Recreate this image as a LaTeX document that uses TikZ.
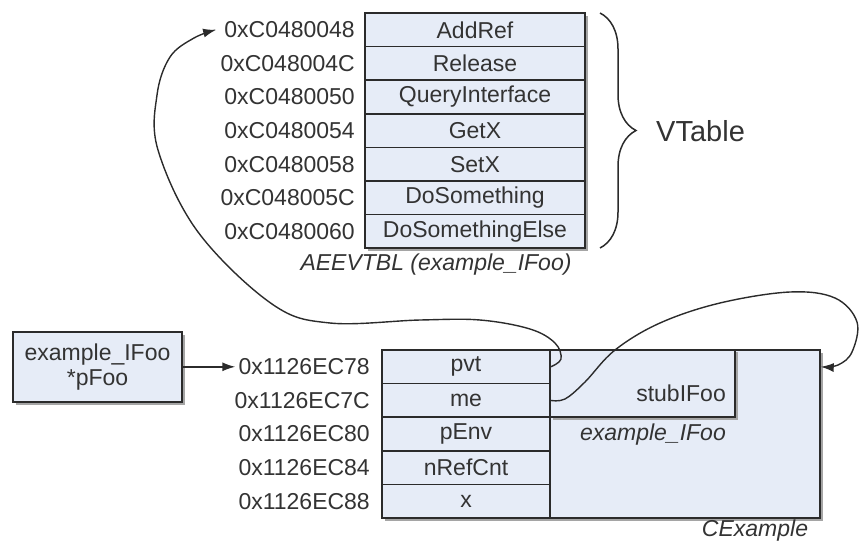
\documentclass[tikz,border=0pt]{standalone}
\usepackage{fontspec}
\setmainfont{Liberation Sans}
\usetikzlibrary{decorations.pathreplacing,arrows.meta}
\definecolor{boxfill}{HTML}{E6ECF7}
\definecolor{ink}{HTML}{2B2B2B}
\definecolor{txt}{HTML}{333333}
\definecolor{shade}{HTML}{A5A5A5}
\begin{document}
\begin{tikzpicture}[x=1pt,y=-1pt,
  fnt/.style={font=\fontsize{23}{25}\selectfont, text=txt},
  cell/.style={draw=ink, line width=1.5pt, fill=boxfill, minimum height=33.6pt, inner sep=0pt, fnt},
  vcell/.style={cell, minimum width=220pt},
  ocell/.style={cell, minimum width=168pt},
  addr/.style={anchor=east, inner sep=0pt, fnt},
  lbl/.style={inner sep=0pt, text=txt, font=\fontsize{23}{25}\selectfont\itshape},
  conn/.style={draw=ink, line width=1.4pt},
  tip/.style={-{Latex[length=13pt,width=9pt]}},
  shadowbox/.style={fill=shade, draw=none}
]
\useasboundingbox (0,0) rectangle (861,541);

% shadows
\fill[shadowbox] (367.5,15.5) rectangle (587.5,250.5);
\fill[shadowbox] (15.5,334.5) rectangle (184.5,404.5);
\fill[shadowbox] (384.5,352.5) rectangle (822.5,520.5);

% top vtable
\foreach \t [count=\i] in {AddRef,Release,QueryInterface,GetX,SetX,DoSomething,DoSomethingElse}{
  \node[vcell] (vt\i) at (475,{13+33.6*(\i-0.5)}) {\t};
}
\foreach \a [count=\i] in {0xC0480048,0xC048004C,0xC0480050,0xC0480054,0xC0480058,0xC048005C,0xC0480060}{
  \node[addr] (a\i) at (355,{13+33.6*(\i-0.5)}) {\a};
}
\node[lbl] (vtname) at (436,265) {AEEVTBL (example\_IFoo)};

% brace
\draw[draw=ink, line width=1.5pt, decorate, decoration={brace, amplitude=36pt}] (600,13) -- (600,248);
\node[anchor=west, inner sep=0pt, font=\fontsize{29}{32}\selectfont, text=txt] (vtlabel) at (656,131) {VTable};

% pFoo box
\node[draw=ink, line width=1.5pt, fill=boxfill, minimum width=169pt, minimum height=70pt, inner sep=0pt, align=center, fnt] (pfoo) at (97.5,367) {example\_IFoo\\*pFoo};

% CExample outer box
\node[draw=ink, line width=1.5pt, fill=boxfill, minimum width=438pt, minimum height=168pt, inner sep=0pt] (cex) at (601,434) {};
\fill[shadowbox] (552.5,352) rectangle (737.5,419.5);
\node[draw=ink, line width=1.5pt, fill=boxfill, minimum width=185pt, minimum height=67pt, inner sep=0pt] (stub) at (642.5,383.5) {};
\node[inner sep=0pt, fnt, anchor=east] (stubname) at (726,393) {stubIFoo};
\node[lbl, anchor=east] (exname) at (726,435) {example\_IFoo};
\node[lbl] (cexname) at (755,531) {CExample};

% bottom rows
\foreach \t [count=\i] in {pvt,me,pEnv,nRefCnt,x}{
  \node[ocell] (p\i) at (466,{350+33.6*(\i-0.5)}) {\t};
}
\foreach \a [count=\i] in {0x1126EC78,0x1126EC7C,0x1126EC80,0x1126EC84,0x1126EC88}{
  \node[addr] (b\i) at (370,{350+33.6*(\i-0.5)}) {\a};
}

% connectors
\draw[conn, tip] (pfoo.east |- b1.west) -- ([xshift=-3pt]b1.west);
\draw[conn, tip] plot[smooth, tension=0.6] coordinates {(p1.east) (561,359) (555,343) (530,329) (480,320) (420,320) (330,323) (272,304) (198,232) (158,150) (157,95) (170,57) (194,38) ([xshift=-8pt]a1.west)};
\draw[conn, tip] plot[smooth, tension=0.6] coordinates {(p2.east) (565,399) (585,382) (615,350) (660,323) (720,303) (790,292) (835,298) (857,322) (852,352) (838,365) (cex.east |- p1.east)};
\end{tikzpicture}
\end{document}
